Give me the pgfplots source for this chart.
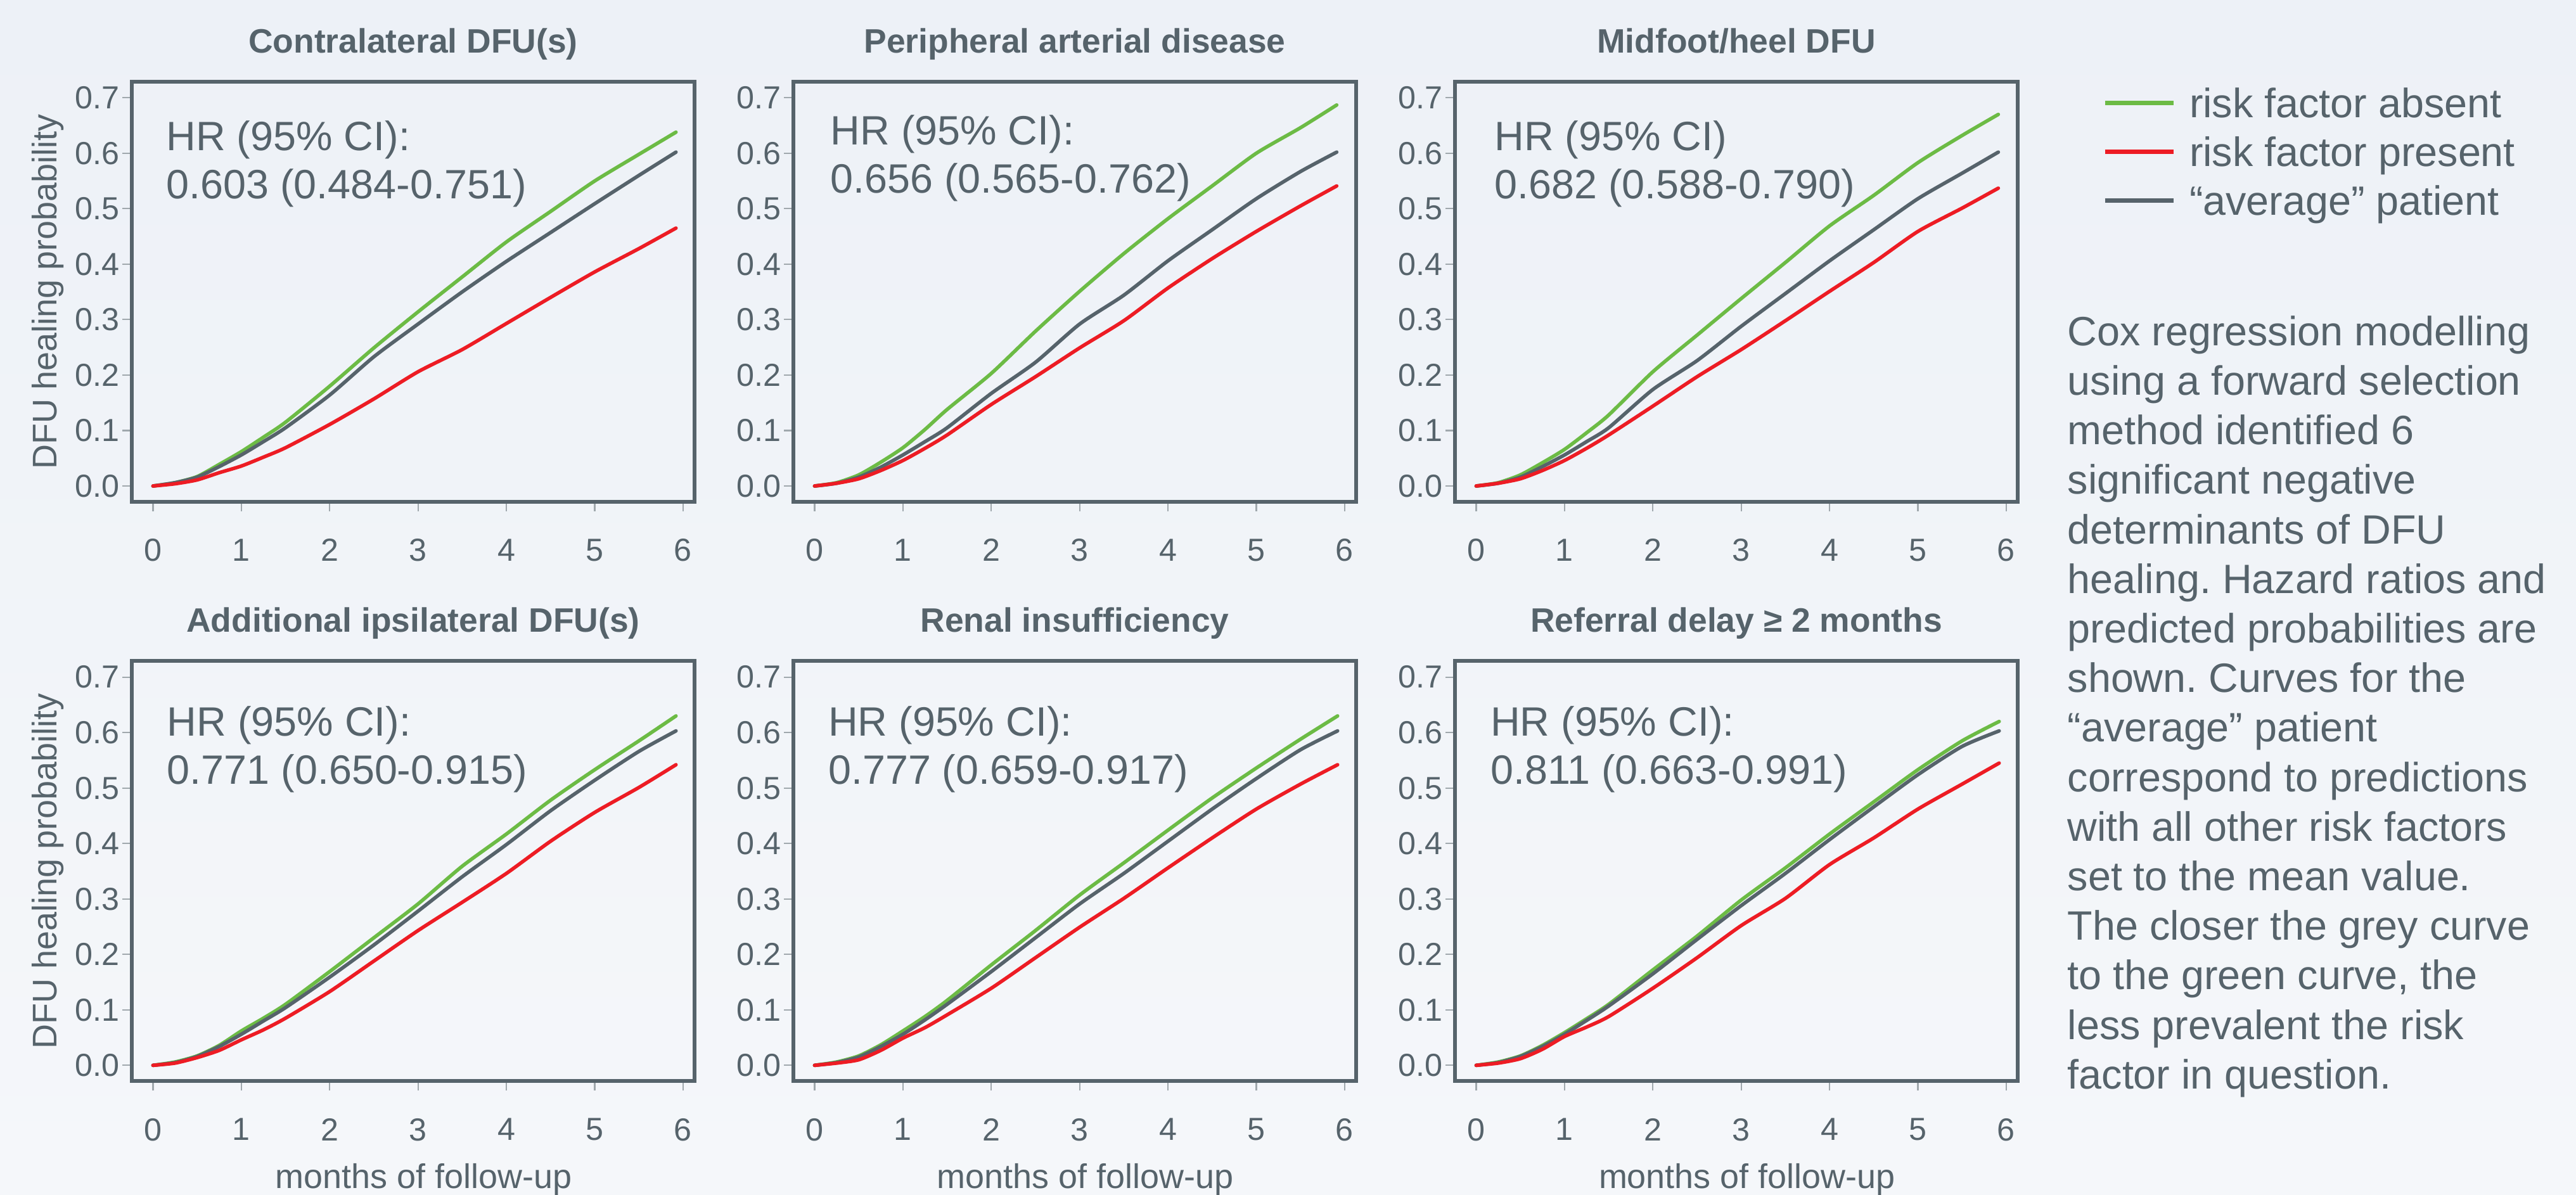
\documentclass[border=0pt]{standalone}
\usepackage{fontspec}
\setmainfont{Liberation Sans}
\usepackage{pgfplots}
\usepackage{pgfplotstable}
\pgfplotsset{compat=1.18}
\frenchspacing

\definecolor{txt}{RGB}{86,99,107}
\definecolor{cgreen}{RGB}{108,187,69}
\definecolor{cred}{RGB}{237,28,36}
\definecolor{cavg}{RGB}{86,99,107}
\definecolor{tickc}{RGB}{160,168,173}
\definecolor{bgtop}{RGB}{237,241,247}
\definecolor{bgbot}{RGB}{245,247,250}

% x = months, g = risk factor absent, r = risk factor present, a = average patient
\pgfplotstableread{
x g r a
0 0 0 0
0.25 0.006 0.004 0.006
0.5 0.017 0.011 0.016
0.75 0.039 0.024 0.035
1 0.062 0.036 0.056
1.25 0.088 0.052 0.080
1.5 0.115 0.069 0.105
2 0.180 0.111 0.164
2.5 0.249 0.157 0.233
3 0.314 0.206 0.292
3.5 0.377 0.246 0.350
4 0.440 0.293 0.405
4.5 0.495 0.340 0.457
5 0.550 0.386 0.509
5.5 0.598 0.428 0.560
5.92 0.638 0.465 0.602
}\tA
\pgfplotstableread{
x g r a
0 0 0 0
0.25 0.006 0.005 0.005
0.5 0.020 0.013 0.016
0.75 0.043 0.028 0.034
1 0.069 0.046 0.056
1.25 0.102 0.068 0.080
1.5 0.138 0.092 0.105
2 0.203 0.147 0.167
2.5 0.279 0.197 0.223
3 0.351 0.249 0.292
3.5 0.419 0.298 0.344
4 0.482 0.357 0.406
4.5 0.541 0.410 0.462
5 0.600 0.459 0.518
5.5 0.646 0.505 0.567
5.91 0.687 0.541 0.602
}\tB
\pgfplotstableread{
x g r a
0 0 0 0
0.25 0.006 0.005 0.005
0.5 0.020 0.013 0.016
0.75 0.042 0.028 0.035
1 0.066 0.046 0.056
1.25 0.096 0.068 0.080
1.5 0.128 0.092 0.105
2 0.206 0.144 0.174
2.5 0.272 0.197 0.226
3 0.338 0.246 0.288
3.5 0.403 0.298 0.347
4 0.469 0.351 0.406
4.5 0.524 0.403 0.462
5 0.583 0.459 0.518
5.5 0.632 0.501 0.564
5.91 0.670 0.537 0.602
}\tC
\pgfplotstableread{
x g r a
0 0 0 0
0.25 0.006 0.004 0.005
0.5 0.017 0.014 0.016
0.75 0.036 0.027 0.034
1 0.062 0.046 0.056
1.25 0.085 0.064 0.080
1.5 0.110 0.085 0.104
2 0.169 0.133 0.159
2.5 0.230 0.188 0.217
3 0.291 0.243 0.278
3.5 0.359 0.294 0.340
4 0.417 0.346 0.398
4.5 0.478 0.404 0.459
5 0.533 0.456 0.514
5.5 0.585 0.501 0.566
5.92 0.630 0.542 0.603
}\tD
\pgfplotstableread{
x g r a
0 0 0 0
0.25 0.006 0.004 0.005
0.5 0.017 0.010 0.015
0.75 0.037 0.027 0.034
1 0.062 0.049 0.056
1.25 0.088 0.068 0.082
1.5 0.117 0.091 0.110
2 0.181 0.139 0.169
2.5 0.243 0.194 0.230
3 0.307 0.249 0.291
3.5 0.365 0.301 0.346
4 0.424 0.356 0.404
4.5 0.482 0.410 0.462
5 0.536 0.462 0.517
5.5 0.588 0.507 0.569
5.92 0.630 0.542 0.603
}\tE
\pgfplotstableread{
x g r a
0 0 0 0
0.25 0.006 0.004 0.005
0.5 0.017 0.012 0.016
0.75 0.036 0.029 0.034
1 0.059 0.052 0.056
1.25 0.084 0.069 0.081
1.5 0.110 0.088 0.107
2 0.172 0.139 0.165
2.5 0.233 0.194 0.227
3 0.298 0.252 0.288
3.5 0.356 0.301 0.346
4 0.417 0.362 0.407
4.5 0.475 0.410 0.466
5 0.533 0.462 0.524
5.5 0.585 0.507 0.575
5.92 0.620 0.545 0.603
}\tF

\pgfplotsset{
  panel/.style={
    scale only axis, width=8.88cm, height=6.63cm,
    xmin=-0.24, xmax=6.13, ymin=-0.0285, ymax=0.729,
    axis line style={draw=txt, line width=1.6pt},
    tick align=outside, xtick pos=left, ytick pos=left,
    major tick length=0.15cm,
    tick style={draw=tickc, line width=0.6pt},
    xtick={0,1,2,3,4,5,6}, xticklabels={0,1,2,3,4,5,6},
    ytick={0,0.1,0.2,0.3,0.4,0.5,0.6,0.7},
    yticklabels={0.0,0.1,0.2,0.3,0.4,0.5,0.6,0.7},
    tick label style={font=\fontsize{14.3}{16}\selectfont, text=txt, inner sep=0pt},
    xticklabel style={yshift=-0.43cm},
    yticklabel style={xshift=-0.04cm},
    every axis title/.style={at={(axis description cs:0.5,1.0688)}, anchor=base,
      font=\bfseries\fontsize{15.2}{18}\selectfont, text=txt},
    every axis y label/.style={at={(axis description cs:-0.1329,0.5)}, anchor=base,
      rotate=90, font=\fontsize{15.35}{18}\selectfont, text=txt},
    every axis x label/.style={at={(axis description cs:0.519,-0.2555)}, anchor=base,
      font=\fontsize{15.35}{18}\selectfont, text=txt},
    every axis plot/.append style={line width=1.6pt, line join=round, line cap=round, smooth, tension=0.4},
  },
}
\tikzset{hr/.style={anchor=base west, inner sep=0pt, text=txt, font=\fontsize{18.4}{22}\selectfont}}

\newcommand{\curves}[1]{%
  \addplot[cgreen] table[x=x,y=g]{#1};
  \addplot[cavg] table[x=x,y=a]{#1};
  \addplot[cred] table[x=x,y=r]{#1};
}

\begin{document}
\begin{tikzpicture}
\useasboundingbox (0,0) rectangle (40.65,18.86);
\shade[top color=bgtop, bottom color=bgbot] (0,0) rectangle (40.65,18.86);

% ---------- top row ----------
\begin{axis}[panel, at={(2.08cm,10.94cm)}, anchor=south west,
  title={Contralateral DFU(s)}, ylabel={DFU healing probability}]
\curves{\tA}
\node[hr] at (axis cs:0.147,0.6051) {HR (95\% CI):};
\node[hr] at (axis cs:0.147,0.5179) {0.603 (0.484-0.751)};
\end{axis}

\begin{axis}[panel, at={(12.52cm,10.94cm)}, anchor=south west,
  title={Peripheral arterial disease}]
\curves{\tB}
\node[hr] at (axis cs:0.176,0.615) {HR (95\% CI):};
\node[hr] at (axis cs:0.176,0.5279) {0.656 (0.565-0.762)};
\end{axis}

\begin{axis}[panel, at={(22.96cm,10.94cm)}, anchor=south west,
  title={Midfoot/heel DFU},
  legend style={at={(axis description cs:1.1509,0.9864)}, anchor=north west,
    draw=none, fill=none, inner sep=0pt, outer sep=0pt,
    font=\fontsize{18.4}{22}\selectfont, text=txt,
    cells={anchor=base west},
    nodes={inner sep=0pt, text height=0.48cm, text depth=0.15cm},
    row sep=0.14cm, column sep=0.22cm},
  legend image code/.code={\draw[#1, line width=2pt, line cap=butt] (0cm,0.23cm) -- (1.08cm,0.23cm);}]
\addlegendimage{cgreen}
\addlegendimage{cred}
\addlegendimage{cavg}
\addlegendentry{risk factor absent}
\addlegendentry{risk factor present}
\addlegendentry{“average” patient}
\addplot[cgreen, forget plot] table[x=x,y=g]{\tC};
\addplot[cavg, forget plot] table[x=x,y=a]{\tC};
\addplot[cred, forget plot] table[x=x,y=r]{\tC};
\node[hr] at (axis cs:0.204,0.6051) {HR (95\% CI)};
\node[hr] at (axis cs:0.204,0.5179) {0.682 (0.588-0.790)};
\end{axis}

% ---------- bottom row ----------
\begin{axis}[panel, at={(2.08cm,1.797cm)}, anchor=south west,
  title={Additional ipsilateral DFU(s)}, ylabel={DFU healing probability},
  xlabel={months of follow-up}]
\curves{\tD}
\node[hr] at (axis cs:0.156,0.5934) {HR (95\% CI):};
\node[hr] at (axis cs:0.156,0.5076) {0.771 (0.650-0.915)};
\end{axis}

\begin{axis}[panel, at={(12.52cm,1.797cm)}, anchor=south west,
  title={Renal insufficiency}, xlabel={months of follow-up}]
\curves{\tE}
\node[hr] at (axis cs:0.151,0.5934) {HR (95\% CI):};
\node[hr] at (axis cs:0.151,0.5076) {0.777 (0.659-0.917)};
\end{axis}

\begin{axis}[panel, at={(22.96cm,1.797cm)}, anchor=south west,
  title={Referral delay ≥ 2 months}, xlabel={months of follow-up}]
\curves{\tF}
\node[hr] at (axis cs:0.158,0.5934) {HR (95\% CI):};
\node[hr] at (axis cs:0.158,0.5076) {0.811 (0.663-0.991)};
\end{axis}

% ---------- explanatory text ----------
\node[anchor=base west, inner sep=0pt, text=txt] at (32.62,13.406)
{\vtop{\hsize=8cm\parindent=0pt\raggedright\frenchspacing\fontsize{18.4}{22.25}\selectfont
Cox regression modelling\\
using a forward selection\\
method identified 6\\
significant negative\\
determinants of DFU\\
healing. Hazard ratios and\\
predicted probabilities are\\
shown. Curves for the\\
“average” patient\\
correspond to predictions\\
with all other risk factors\\
set to the mean value.\\
The closer the grey curve\\
to the green curve, the\\
less prevalent the risk\\
factor in question.}};
\end{tikzpicture}
\end{document}
